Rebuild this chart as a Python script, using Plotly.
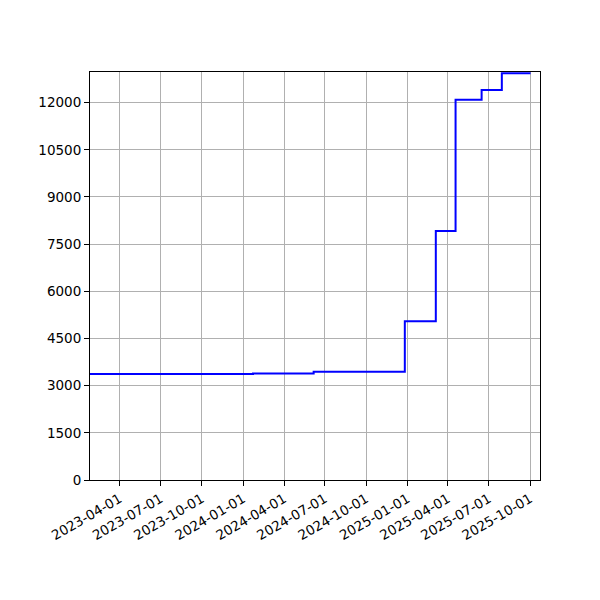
import plotly.graph_objects as go

# Step data (value changes at each date)
dates = ["2023-01-25", "2024-01-23", "2024-06-06", "2024-12-26", "2025-03-05",
         "2025-04-18", "2025-06-15", "2025-07-30", "2025-10-02"]
values = [3370, 3390, 3440, 5050, 7920, 12090, 12400, 12935, 12935]

x_ticks = ["2023-04-01", "2023-07-01", "2023-10-01", "2024-01-01", "2024-04-01",
           "2024-07-01", "2024-10-01", "2025-01-01", "2025-04-01", "2025-07-01",
           "2025-10-01"]
y_ticks = [0, 1500, 3000, 4500, 6000, 7500, 9000, 10500, 12000]

fig = go.Figure(go.Scatter(
    x=dates,
    y=values,
    mode="lines",
    line=dict(color="blue", width=2, shape="hv"),
    showlegend=False,
))

axis_style = dict(
    showline=True,
    linecolor="black",
    linewidth=1,
    mirror=True,
    ticks="outside",
    ticklen=5,
    tickcolor="black",
    showgrid=True,
    gridcolor="#b0b0b0",
    gridwidth=1,
    zeroline=False,
)

fig.update_xaxes(
    range=["2023-01-25", "2025-10-23"],
    tickvals=x_ticks,
    ticktext=x_ticks,
    tickangle=-30,
    **axis_style,
)
fig.update_yaxes(
    range=[0, 12975],
    tickvals=y_ticks,
    ticktext=[str(v) for v in y_ticks],
    **axis_style,
)

# page body adds ~8px offset, so margins are trimmed on top/left
fig.update_layout(
    width=600,
    height=600,
    margin={"l": 82, "r": 68, "t": 64, "b": 128},
    plot_bgcolor="white",
    paper_bgcolor="white",
    font=dict(family="DejaVu Sans", size=13.5, color="black"),
)

fig.write_html("out.html")
